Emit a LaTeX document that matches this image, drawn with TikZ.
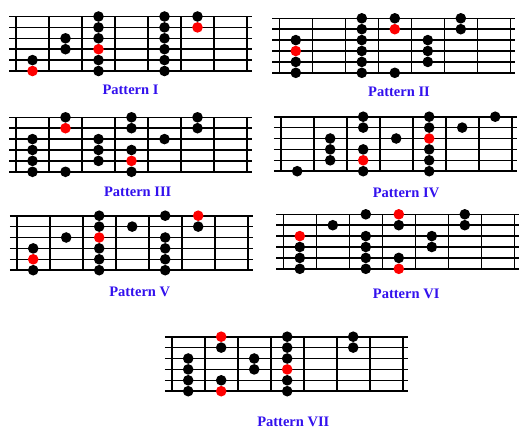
\documentclass[tikz,border=0pt]{standalone}
\usepackage{fontspec}
\setmainfont{Liberation Serif}
\usetikzlibrary{positioning}

\definecolor{patblue}{RGB}{51,17,238}
\definecolor{rootred}{RGB}{255,0,0}

\tikzset{
	fret/.style={line width=1.6pt},
	blackdot/.style={fill=black},
	reddot/.style={fill=rootred},
	patlabel/.style={text=patblue, inner sep=0pt, font=\bfseries\fontsize{14.5}{16}\selectfont}
}

% six strings, eight frets
\newcommand{\fretgrid}{%
	\foreach \s in {0,...,5} \draw[fret] (-0.21,\s) -- (7.15,\s);
	\foreach \f in {0,...,7} \draw[fret] (\f,0) -- (\f,5);
}
% #1 black dots, #2 red dots (fret space/string)
\newcommand{\fretdots}[2]{%
	\foreach \k/\s in {#1} \fill[blackdot] (\k-0.5,\s-1) circle[radius=5.3pt];
	\foreach \k/\s in {#2} \fill[reddot] (\k-0.5,\s-1) circle[radius=5.3pt];
}

\begin{document}
\begin{tikzpicture}[x=1pt, y=-1pt]
		\useasboundingbox[fill=white] (0,0) rectangle (520,440);

		  % Boards
		\begin{scope}[shift={(16,16.5)}, x=33pt, y=-10.9pt]
		  \fretgrid
		  \fretdots{1/5, 2/3, 2/4, 3/1, 3/2, 3/3, 3/5, 3/6, 5/1, 5/2, 5/3, 5/4, 5/5, 5/6, 6/1}{1/6, 3/4, 6/2}
		\end{scope}
		\begin{scope}[shift={(279.3,18.3)}, x=33pt, y=-10.9pt]
		  \fretgrid
		  \fretdots{1/3, 1/5, 1/6, 3/1, 3/2, 3/3, 3/4, 3/5, 3/6, 4/1, 4/6, 5/3, 5/4, 5/5, 6/1, 6/2}{1/4, 4/2}
		\end{scope}
		\begin{scope}[shift={(16,117.3)}, x=33pt, y=-10.9pt]
		  \fretgrid
		  \fretdots{1/3, 1/4, 1/5, 1/6, 2/1, 2/6, 3/3, 3/4, 3/5, 4/1, 4/2, 4/4, 4/6, 5/3, 6/1, 6/2}{2/2, 4/5}
		\end{scope}
		\begin{scope}[shift={(280.7,116.7)}, x=33pt, y=-10.9pt]
		  \fretgrid
		  \fretdots{1/6, 2/3, 2/4, 2/5, 3/1, 3/2, 3/4, 3/6, 4/3, 5/1, 5/2, 5/4, 5/5, 5/6, 6/2, 7/1}{3/5, 5/3}
		\end{scope}
		\begin{scope}[shift={(16.7,215.7)}, x=33pt, y=-10.9pt]
		  \fretgrid
		  \fretdots{1/4, 1/6, 2/3, 3/1, 3/2, 3/4, 3/5, 3/6, 4/2, 5/1, 5/3, 5/4, 5/5, 5/6, 6/2}{1/5, 3/3, 6/1}
		\end{scope}
		\begin{scope}[shift={(283.3,214.3)}, x=33pt, y=-10.9pt]
		  \fretgrid
		  \fretdots{1/4, 1/5, 1/6, 2/2, 3/1, 3/3, 3/4, 3/5, 3/6, 4/2, 4/5, 5/3, 5/4, 6/1, 6/2}{1/3, 4/1, 4/6}
		\end{scope}
		\begin{scope}[shift={(171.7,336.7)}, x=33pt, y=-10.9pt]
		  \fretgrid
		  \fretdots{1/3, 1/4, 1/5, 1/6, 2/2, 2/5, 3/3, 3/4, 4/1, 4/2, 4/3, 4/5, 4/6, 6/1, 6/2}{2/1, 2/6, 4/4}
		\end{scope}

		  % Labels
		\node[patlabel] (patI) at (130.5,90) {Pattern I};
		\node[patlabel] (patII) at (399,92.3) {Pattern II};
		\node[patlabel] (patIII) at (137.7,192.3) {Pattern III};
		\node[patlabel] (patIV) at (406,193.3) {Pattern IV};
		\node[patlabel] (patV) at (139.7,292.3) {Pattern V};
		\node[patlabel] (patVI) at (406.2,294.3) {Pattern VI};
		\node[patlabel] (patVII) at (293.3,421.7) {Pattern VII};
\end{tikzpicture}
\end{document}
